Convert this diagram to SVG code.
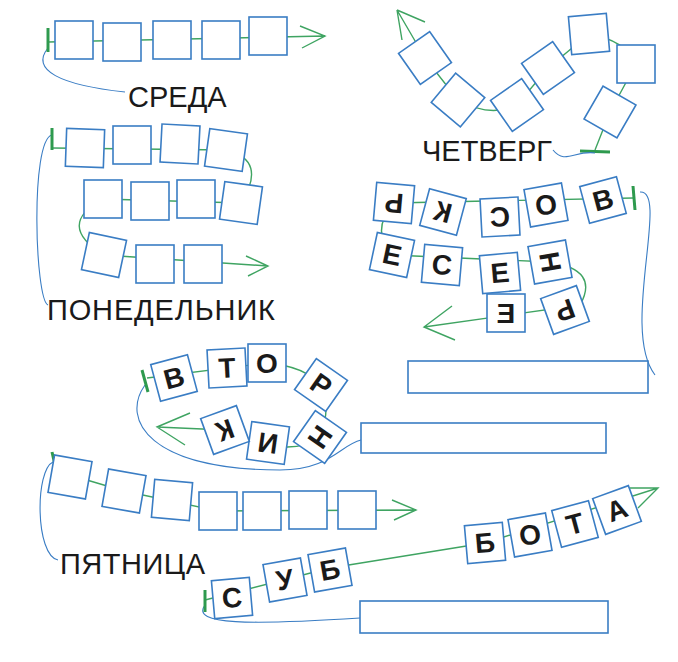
<svg xmlns="http://www.w3.org/2000/svg" width="678" height="662" viewBox="0 0 678 662">
<style>
.t text{font-family:"Liberation Sans",Arial,sans-serif;font-size:28px;font-weight:bold;fill:#1a1a1a;text-anchor:middle;dominant-baseline:central}
.g{fill:none;stroke:#3fa462;stroke-width:1.4}
.bar{stroke:#2e9a4e;stroke-width:3}
.b{fill:none;stroke:#3a7dc4;stroke-width:1.1}
.lab{font-family:"Liberation Sans",Arial,sans-serif;font-size:29px;fill:#1a1a1a}
.box{fill:#fff;stroke:#3a7dc4;stroke-width:1.6}
</style>
<defs><rect id="s" x="-19" y="-19" width="38" height="38" fill="#fff" stroke="#3a7dc4" stroke-width="1.6"/></defs>
<g id="connectors">
<path class="g" d="M48 42 L325 36 M300 26 L325 36 L302 48"/>
<path class="b" d="M48 48 C30 70 60 85 125 92"/>
<path class="g" d="M425 58 L397 10 M397 10 L425 22 M397 10 L402 40 M425 58 L458 100 Q490 118 517 105 L548 68 L589 34 Q625 40 636 64 L610 112 L595 150"/>
<line class="bar" x1="580" y1="151" x2="610" y2="152"/>
<path class="b" d="M553 150 C565 165 575 150 595 153"/>
<path class="g" d="M52 148 L226 150 Q268 160 241 203 L103 199 Q55 225 104 255 L268 266 M246 256 L268 266 L248 276"/>
<path class="b" d="M52 135 C30 140 35 300 48 305"/>
<path class="g" d="M633 198 L394 203 Q370 230 392 255 L550 262 Q600 270 580 305 L424 327 M452 306 L424 327 L455 340"/>
<path class="b" d="M640 192 C670 190 620 330 655 375"/>
<path class="g" d="M147 378 L267 363 Q345 370 320 437 Q290 460 225 430 L157 427 M190 413 L157 427 L185 445"/>
<path class="b" d="M145 385 C120 420 150 470 280 470 C330 470 340 445 361 440"/>
<path class="g" d="M53 470 L124 491 L218 511 L416 510 M392 500 L416 510 L394 520"/>
<path class="b" d="M53 462 C35 470 35 555 58 560"/>
<path class="g" d="M205 600 L330 568 L485 543 L658 488 M630 488 L658 488 L638 508"/>
<path class="b" d="M205 605 C190 625 250 625 360 618"/>
<line class="bar" x1="48" y1="28" x2="48" y2="52"/>
<line class="bar" x1="52" y1="128" x2="52" y2="150"/>
<line class="bar" x1="633" y1="186" x2="635" y2="210"/>
<line class="bar" x1="142" y1="370" x2="148" y2="392"/>
<line class="bar" x1="52" y1="452" x2="57" y2="474"/>
<line class="bar" x1="205" y1="590" x2="205" y2="612"/>
</g>
<g id="sreda" class="t">
<use href="#s" x="74" y="40"/><use href="#s" x="122" y="42"/><use href="#s" x="172" y="40"/><use href="#s" x="221" y="40"/><use href="#s" x="268" y="36"/>
</g>
<text class="lab" x="128" y="107">СРЕДА</text>
<g id="chetverg" class="t">
<g transform="translate(425,58) rotate(-35)"><use href="#s"/></g>
<g transform="translate(458,100) rotate(40)"><use href="#s"/></g>
<g transform="translate(517,105) rotate(-35)"><use href="#s"/></g>
<g transform="translate(548,68) rotate(-35)"><use href="#s"/></g>
<g transform="translate(589,34) rotate(-5)"><use href="#s"/></g>
<g transform="translate(636,64)"><use href="#s"/></g>
<g transform="translate(610,112) rotate(30)"><use href="#s"/></g>
</g>
<text class="lab" x="422" y="161" textLength="130">ЧЕТВЕРГ</text>
<g id="ponedelnik" class="t">
<g transform="translate(85,148) rotate(2)"><use href="#s"/></g>
<g transform="translate(132,145)"><use href="#s"/></g>
<g transform="translate(180,144) rotate(3)"><use href="#s"/></g>
<g transform="translate(226,150) rotate(8)"><use href="#s"/></g>
<g transform="translate(103,199)"><use href="#s"/></g>
<g transform="translate(150,201)"><use href="#s"/></g>
<g transform="translate(196,199)"><use href="#s"/></g>
<g transform="translate(241,203) rotate(8)"><use href="#s"/></g>
<g transform="translate(104,255) rotate(12)"><use href="#s"/></g>
<g transform="translate(155,264)"><use href="#s"/></g>
<g transform="translate(203,264)"><use href="#s"/></g>
</g>
<text class="lab" x="47" y="320" textLength="228">ПОНЕДЕЛЬНИК</text>
<g id="voskresenye" class="t">
<g transform="translate(394,203) rotate(5)"><use href="#s"/><text transform="rotate(180)">Р</text></g>
<g transform="translate(443,212) rotate(15)"><use href="#s"/><text transform="scale(-1,1)">К</text></g>
<g transform="translate(500,217) rotate(-3)"><use href="#s"/><text transform="scale(-1,1)">С</text></g>
<g transform="translate(546,205) rotate(-10)"><use href="#s"/><text>О</text></g>
<g transform="translate(603,200) rotate(-15)"><use href="#s"/><text>В</text></g>
<g transform="translate(392,255) rotate(12)"><use href="#s"/><text>Е</text></g>
<g transform="translate(442,265) rotate(5)"><use href="#s"/><text>С</text></g>
<g transform="translate(500,273) rotate(-5)"><use href="#s"/><text>Е</text></g>
<g transform="translate(550,262) rotate(-10)"><use href="#s"/><text transform="rotate(90)">Н</text></g>
<g transform="translate(506,313)"><use href="#s"/><text transform="scale(-1,1)">Е</text></g>
<g transform="translate(565,310) rotate(-20)"><use href="#s"/><text transform="rotate(180)">Р</text></g>
</g>
<rect class="box" x="408" y="361" width="240" height="32"/>
<g id="vtornik" class="t">
<g transform="translate(174,378) rotate(-15)"><use href="#s"/><text>В</text></g>
<g transform="translate(227,368) rotate(-3)"><use href="#s"/><text>Т</text></g>
<g transform="translate(267,363)"><use href="#s"/><text>О</text></g>
<g transform="translate(321,385) rotate(35)"><use href="#s"/><text>Р</text></g>
<g transform="translate(320,437) rotate(35)"><use href="#s"/><text transform="rotate(90)">Н</text></g>
<g transform="translate(268,443) rotate(8)"><use href="#s"/><text transform="rotate(180)">И</text></g>
<g transform="translate(225,430) rotate(-20)"><use href="#s"/><text transform="rotate(180)">К</text></g>
</g>
<rect class="box" x="361" y="423" width="245" height="30"/>
<g id="pyatnitsa" class="t">
<g transform="translate(70,477) rotate(10)"><use href="#s"/></g>
<g transform="translate(124,491) rotate(10)"><use href="#s"/></g>
<g transform="translate(172,500) rotate(5)"><use href="#s"/></g>
<use href="#s" x="218" y="511"/><use href="#s" x="262" y="511"/><use href="#s" x="308" y="510"/><use href="#s" x="357" y="510"/>
</g>
<text class="lab" x="60" y="574" textLength="145">ПЯТНИЦА</text>
<g id="subbota" class="t">
<g transform="translate(232,598) rotate(-5)"><use href="#s"/><text>С</text></g>
<g transform="translate(285,580) rotate(-10)"><use href="#s"/><text>У</text></g>
<g transform="translate(330,570) rotate(-10)"><use href="#s"/><text>Б</text></g>
<g transform="translate(485,543) rotate(-5)"><use href="#s"/><text>Б</text></g>
<g transform="translate(530,535) rotate(-10)"><use href="#s"/><text>О</text></g>
<g transform="translate(575,524) rotate(-15)"><use href="#s"/><text>Т</text></g>
<g transform="translate(617,510) rotate(-20)"><use href="#s"/><text>А</text></g>
</g>
<rect class="box" x="360" y="601" width="248" height="32"/>
</svg>
